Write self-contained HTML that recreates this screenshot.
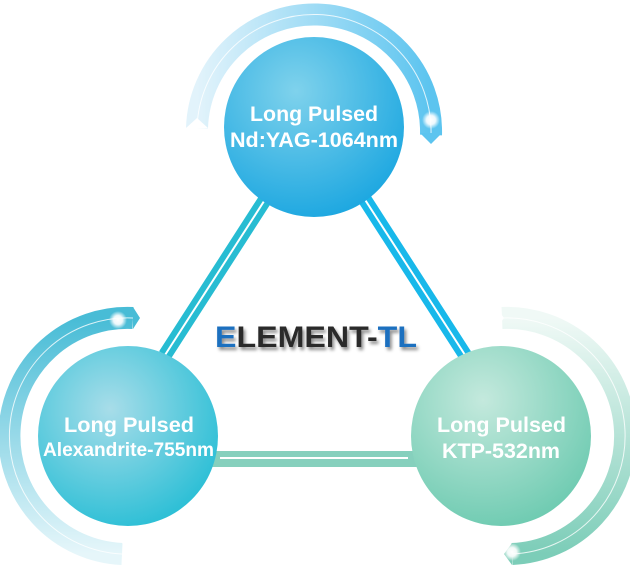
<!DOCTYPE html>
<html><head><meta charset="utf-8"><style>html,body{margin:0;padding:0;background:#fff}svg{display:block}</style></head>
<body>
<svg width="630" height="566" viewBox="0 0 630 566" xmlns="http://www.w3.org/2000/svg" font-family="Liberation Sans, Arial, sans-serif">
<defs>
<radialGradient id="gTop" cx="0.4" cy="0.3" r="0.75"><stop offset="0" stop-color="#7fd2ec"/><stop offset="1" stop-color="#1aa6e0"/></radialGradient>
<radialGradient id="gLeft" cx="0.4" cy="0.35" r="0.75"><stop offset="0" stop-color="#a8dde9"/><stop offset="1" stop-color="#20bcd4"/></radialGradient>
<radialGradient id="gRight" cx="0.4" cy="0.3" r="0.75"><stop offset="0" stop-color="#c4e9dd"/><stop offset="1" stop-color="#6ccab0"/></radialGradient>
<linearGradient id="aTop" x1="0" y1="0" x2="1" y2="0"><stop offset="0" stop-color="#e2f3fb"/><stop offset="1" stop-color="#5cc4ef"/></linearGradient>
<linearGradient id="aLeft" x1="0" y1="0" x2="0" y2="1"><stop offset="0" stop-color="#48bcd6"/><stop offset="1" stop-color="#e6f6fa"/></linearGradient>
<linearGradient id="aRight" x1="0" y1="0" x2="0" y2="1"><stop offset="0" stop-color="#f0f9f6"/><stop offset="1" stop-color="#7ccdb8"/></linearGradient>
<radialGradient id="star"><stop offset="0" stop-color="#fff"/><stop offset="0.5" stop-color="#fff" stop-opacity="0.9"/><stop offset="1" stop-color="#fff" stop-opacity="0"/></radialGradient>
<filter id="sh"><feDropShadow dx="2" dy="3" stdDeviation="1.5" flood-color="#000" flood-opacity="0.45"/></filter>
</defs>

<path d="M197,128 A117,117 0 0 1 431,135" fill="none" stroke="url(#aTop)" stroke-width="22"/>
<path d="M197,128 A117,117 0 0 1 431,135" fill="none" stroke="#fff" stroke-width="1" opacity="0.8"/>
<polygon points="186,128 208,128 197,118" fill="#fff"/>
<polygon points="420,133 442,133 431,144" fill="#5cc4ef"/>
<circle cx="431" cy="120" r="9" fill="url(#star)"/>

<path d="M133,318 A118,118 0 0 0 122,554" fill="none" stroke="url(#aLeft)" stroke-width="22"/>
<path d="M133,318 A118,118 0 0 0 122,554" fill="none" stroke="#fff" stroke-width="1" opacity="0.8"/>
<polygon points="133,307 140,318 133,329" fill="#48bcd6"/>
<polygon points="122,543 130,554 122,565 140,565 140,543" fill="#fff"/>
<circle cx="118" cy="320" r="9" fill="url(#star)"/>

<path d="M502,318 A118,118 0 0 1 512,554" fill="none" stroke="url(#aRight)" stroke-width="22"/>
<path d="M502,318 A118,118 0 0 1 512,554" fill="none" stroke="#fff" stroke-width="1" opacity="0.8"/>
<polygon points="496,307 504,318 496,329 490,329 490,307" fill="#fff"/>
<polygon points="512,543 504,554 512,565" fill="#7ccdb8"/>
<circle cx="512" cy="552" r="9" fill="url(#star)"/>

<line x1="268" y1="195" x2="165" y2="355" stroke="#27bcd2" stroke-width="14"/>
<line x1="268" y1="195" x2="165" y2="355" stroke="#fff" stroke-width="2"/>
<line x1="362" y1="195" x2="467" y2="358" stroke="#18b8ea" stroke-width="14"/>
<line x1="362" y1="195" x2="467" y2="358" stroke="#fff" stroke-width="2"/>
<line x1="210" y1="459" x2="420" y2="459" stroke="#86d0bd" stroke-width="16"/>
<line x1="220" y1="458" x2="408" y2="458" stroke="#fff" stroke-width="2"/>

<circle cx="314" cy="127" r="90" fill="url(#gTop)"/>
<circle cx="128" cy="436" r="90" fill="url(#gLeft)"/>
<circle cx="501" cy="436" r="90" fill="url(#gRight)"/>

<g fill="#fff" font-weight="bold" lengthAdjust="spacingAndGlyphs">
<text x="250" y="121" font-size="21" textLength="128" lengthAdjust="spacingAndGlyphs">Long Pulsed</text>
<text x="230" y="147" font-size="21" textLength="168" lengthAdjust="spacingAndGlyphs">Nd:YAG-1064nm</text>
<text x="64" y="432" font-size="21" textLength="130" lengthAdjust="spacingAndGlyphs">Long Pulsed</text>
<text x="43" y="456" font-size="19" textLength="171" lengthAdjust="spacingAndGlyphs">Alexandrite-755nm</text>
<text x="437" y="432" font-size="21" textLength="129" lengthAdjust="spacingAndGlyphs">Long Pulsed</text>
<text x="442" y="458" font-size="21" textLength="118" lengthAdjust="spacingAndGlyphs">KTP-532nm</text>
</g>

<text x="215" y="347" font-size="30" font-weight="bold" textLength="202" lengthAdjust="spacingAndGlyphs" filter="url(#sh)" fill="#2b2b2b"><tspan fill="#1f6fbf">E</tspan>LEMENT-<tspan fill="#1f6fbf">TL</tspan></text>
</svg>
</body></html>
